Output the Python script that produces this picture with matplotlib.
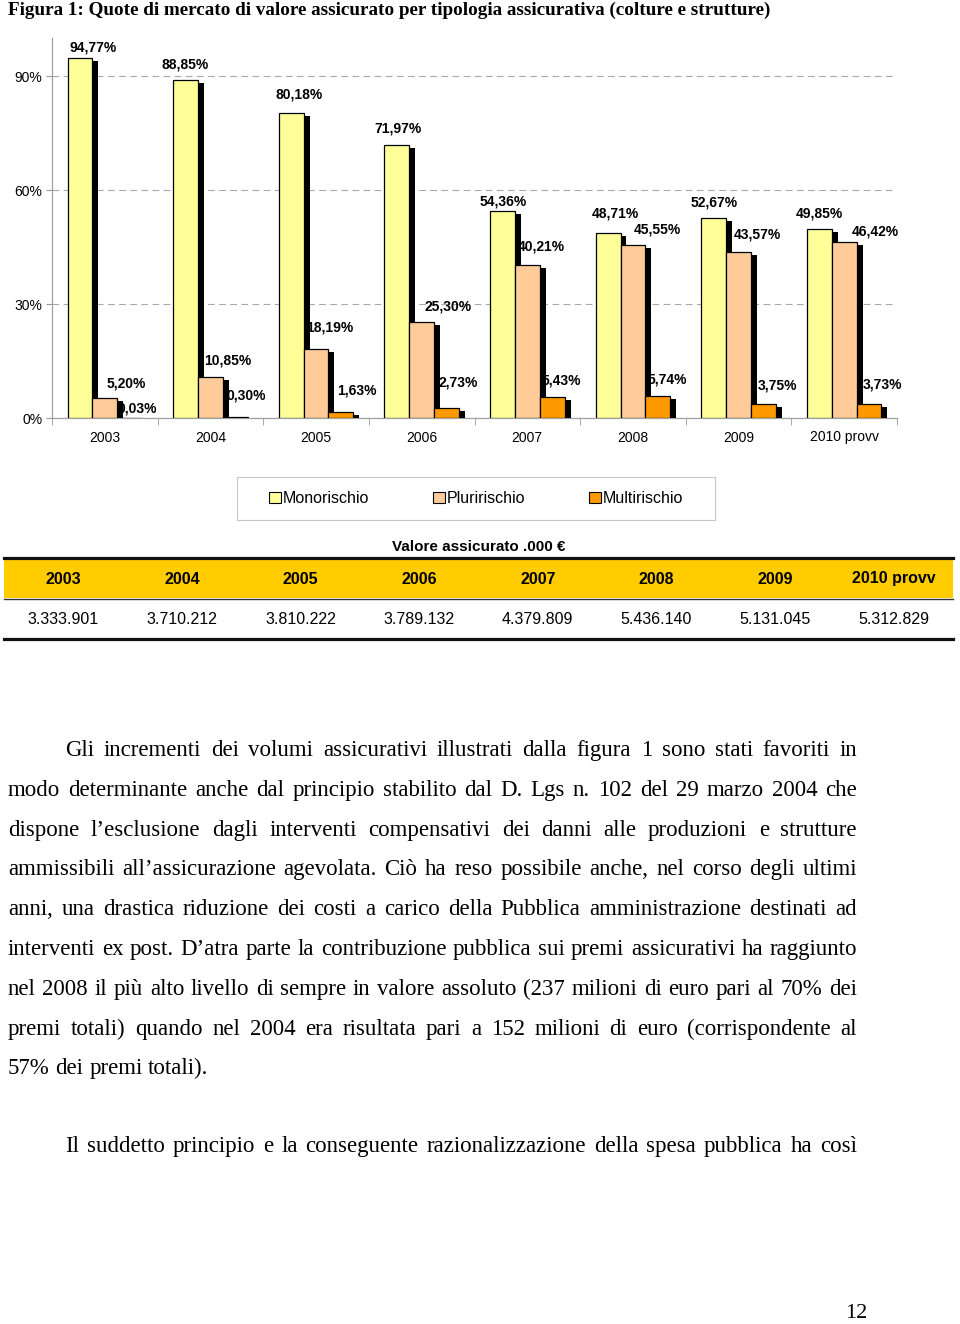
import numpy as np
import matplotlib
matplotlib.use("Agg")
import matplotlib.pyplot as plt
import matplotlib.patheffects as pe
from matplotlib.patches import Patch

plt.rcParams['font.family'] = ['Liberation Sans', 'DejaVu Sans']

W, H = 960, 1324

# data
years = ['2003', '2004', '2005', '2006', '2007', '2008', '2009', '2010 provv']
series_names = ['Monorischio', 'Pluririschio', 'Multirischio']
monorischio = [94.77, 88.85, 80.18, 71.97, 54.36, 48.71, 52.67, 49.85]
pluririschio = [5.20, 10.85, 18.19, 25.30, 40.21, 45.55, 43.57, 46.42]
multirischio = [0.03, 0.30, 1.63, 2.73, 5.43, 5.74, 3.75, 3.73]
valore_assicurato = ['3.333.901', '3.710.212', '3.810.222', '3.789.132',
                     '4.379.809', '5.436.140', '5.131.045', '5.312.829']

title = ("Figura 1: Quote di mercato di valore assicurato per tipologia "
         "assicurativa (colture e strutture)")
paragraph = [
    "Gli incrementi dei volumi assicurativi illustrati dalla figura 1 sono stati favoriti in",
    "modo determinante anche dal principio stabilito dal D. Lgs n. 102 del 29 marzo 2004 che",
    "dispone l’esclusione dagli interventi compensativi dei danni alle produzioni e strutture",
    "ammissibili all’assicurazione agevolata. Ciò ha reso possibile anche, nel corso degli ultimi",
    "anni, una drastica riduzione dei costi a carico della Pubblica amministrazione destinati ad",
    "interventi ex post. D’atra parte la contribuzione pubblica sui premi assicurativi ha raggiunto",
    "nel 2008 il più alto livello di sempre in valore assoluto (237 milioni di euro pari al 70% dei",
    "premi totali) quando nel 2004 era risultata pari a 152 milioni di euro (corrispondente al",
    "57% dei premi totali).",
]
next_line = "Il suddetto principio e la conseguente razionalizzazione della spesa pubblica ha così"
page_number = "12"

# styling
colors = ['#FFFF99', '#FFCC99', '#FF9900']
# label offsets in pixels (right, up) from the top centre of each bar
label_offsets = [
    [(13, 10), (0, 16), (8, 19), (1, 16), (1, 10), (7, 19), (0, 15), (0, 15)],
    [(21, 15), (17, 16), (14, 21), (26, 15), (14, 19), (24, 15), (19, 18), (31, 10)],
    [(8, 9), (11, 21), (16, 21), (12, 25), (9, 17), (10, 17), (14, 18), (13, 19)],
]


def fx(px):
    return px / W


def fy(py):
    return 1 - py / H


fig = plt.figure(figsize=(W / 100, H / 100), dpi=100)
renderer = fig.canvas.get_renderer()

# title, fitted to its width in the page
t = fig.text(fx(8), fy(10), title, family='Liberation Serif', fontweight='bold',
             fontsize=16, va='center', ha='left')
tw = t.get_window_extent(renderer).width
t.set_fontsize(16 * 765 / tw)

# bar chart
ax = fig.add_axes([fx(52), fy(418), fx(845), 380 / H])
x = np.arange(len(years))
bw = 0.235
shadow = [pe.SimplePatchShadow(offset=(4.3, -2.2), shadow_rgbFace='black', alpha=1.0),
          pe.Normal()]
all_vals = [monorischio, pluririschio, multirischio]
for k, (vals, col) in enumerate(zip(all_vals, colors)):
    xs = x + (k - 1) * bw
    bars = ax.bar(xs, np.array(vals) / 100, bw, color=col, edgecolor='black',
                  linewidth=0.9, zorder=3 + k)
    for b in bars:
        b.set_path_effects(shadow)
    for xi, v, (dx, dy) in zip(xs, vals, label_offsets[k]):
        lab = f"{v:.2f}".replace('.', ',') + '%'
        ax.annotate(lab, xy=(xi, v / 100), xytext=(dx, dy), textcoords='offset pixels',
                    ha='center', va='center', fontsize=10, fontweight='bold',
                    zorder=2.5, annotation_clip=False)

ax.set_xlim(-0.5, len(years) - 0.5)
ax.set_ylim(0, 1.0)
ax.set_yticks([0, 0.3, 0.6, 0.9])
ax.set_yticklabels(['0%', '30%', '60%', '90%'])
ax.set_xticks(x)
ax.set_xticklabels(years)
ax.set_xticks(np.arange(-0.5, len(years), 1), minor=True)
ax.tick_params(axis='y', length=4, color='#999999', labelsize=10, pad=3)
ax.tick_params(axis='x', which='major', length=0, labelsize=10, pad=9)
ax.tick_params(axis='x', which='minor', length=5, color='#999999')
ax.yaxis.grid(True, linestyle=(0, (6, 4)), color='#A8A8A8', linewidth=0.8)
ax.set_axisbelow(True)
for s in ['top', 'right']:
    ax.spines[s].set_visible(False)
for s in ['left', 'bottom']:
    ax.spines[s].set_color('#A0A0A0')
    ax.spines[s].set_linewidth(0.9)

# legend box
ax_leg = fig.add_axes([fx(237), fy(520), fx(478), 43 / H])
ax_leg.set_xticks([])
ax_leg.set_yticks([])
for s in ax_leg.spines.values():
    s.set_color('#C8C8C8')
handles = [Patch(facecolor=c, edgecolor='black', linewidth=0.8) for c in colors]
ax_leg.legend(handles, series_names, loc='center', ncol=3, frameon=False,
              fontsize=11.5, handlelength=0.75, handleheight=0.75,
              handletextpad=0.1, columnspacing=4.0)

# table "Valore assicurato"
ax_t = fig.add_axes([0, fy(645), 1, 110 / H])
ax_t.set_xlim(0, W)
ax_t.set_ylim(645, 535)
ax_t.axis('off')
tx0, tx1 = 4, 953
ax_t.fill_between([tx0, tx1], 559, 598, color='#FFCC00', linewidth=0)
ax_t.plot([tx0, tx1], [558, 558], color='#111111', linewidth=2.3)
ax_t.plot([tx0, tx1], [599, 599], color='#333333', linewidth=1.0)
ax_t.plot([tx0, tx1], [639, 639], color='#111111', linewidth=2.3)
ax_t.text((tx0 + tx1) / 2, 547, 'Valore assicurato .000 €', ha='center', va='center',
          fontsize=11, fontweight='bold')
col_w = (tx1 - tx0) / len(years)
for i, (yr, val) in enumerate(zip(years, valore_assicurato)):
    cx = tx0 + col_w * (i + 0.5)
    ax_t.text(cx, 579, yr, ha='center', va='center', fontsize=11.5, fontweight='bold')
    ax_t.text(cx, 619, val, ha='center', va='center', fontsize=11.5)


# body text, justified between the margins
def put_line(text, x0, x1, y, justify=True, size=16.5):
    words = text.split(' ')
    items = [fig.text(0, fy(y), w_, family='Liberation Serif', fontsize=size,
                      va='baseline', ha='left') for w_ in words]
    widths = [it.get_window_extent(renderer).width for it in items]
    if justify and len(words) > 1:
        gap = (x1 - x0 - sum(widths)) / (len(words) - 1)
    else:
        sp = fig.text(0, 0, 'a a', family='Liberation Serif', fontsize=size)
        sa = fig.text(0, 0, 'aa', family='Liberation Serif', fontsize=size)
        gap = sp.get_window_extent(renderer).width - sa.get_window_extent(renderer).width
        sp.remove()
        sa.remove()
    xc = x0
    for it, wd in zip(items, widths):
        it.set_x(fx(xc))
        xc += wd + gap


line_h = 39.8
for i, line in enumerate(paragraph):
    x0 = 65 if i == 0 else 8
    put_line(line, x0, 857, 756 + i * line_h, justify=(i < len(paragraph) - 1))

put_line(next_line, 65, 857, 1152)

fig.text(fx(856), fy(1314), page_number, family='Liberation Serif', fontsize=16,
         ha='center', va='center')

fig.savefig('out.png', dpi=100)
